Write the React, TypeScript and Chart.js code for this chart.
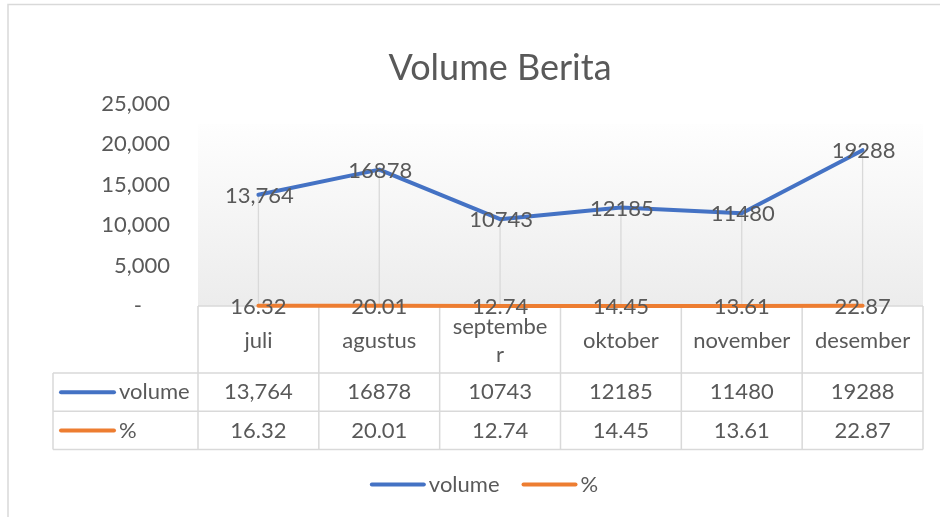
import React, { useEffect, useRef } from 'react';
import { Chart, registerables } from 'chart.js';

Chart.register(...registerables);

// ---------- data ----------
const chartTitle = 'Volume Berita';
const categories = ['juli', 'agustus', 'september', 'oktober', 'november', 'desember'];
// header cells as they wrap in the data table
const headerLines = [['juli'], ['agustus'], ['septembe', 'r'], ['oktober'], ['november'], ['desember']];
const volume = [13764, 16878, 10743, 12185, 11480, 19288];
const percent = [16.32, 20.01, 12.74, 14.45, 13.61, 22.87];
const volumeUsesThousands = [true, false, false, false, false, false];
const seriesNames = ['volume', '%'];
const seriesColors = ['#4472C4', '#ED7D31'];
const yTicks = [0, 5000, 10000, 15000, 20000, 25000];

// ---------- style ----------
const FONT = 'Lato, "Open Sans", sans-serif';
const TEXT = '#595959';
const GRID = '#d9d9d9';
const FS = 22;

const fmtVolume = (v: number, i: number) => (volumeUsesThousands[i] ? v.toLocaleString('en-US') : String(v));
const fmtPercent = (v: number) => v.toFixed(2);

const excelPlugin = {
  id: 'excelLook',
  beforeDraw(chart: any) {
    const { ctx, chartArea: a } = chart;
    ctx.save();
    ctx.fillStyle = '#ffffff';
    ctx.fillRect(0, 0, chart.width, chart.height);
    // outer frame
    ctx.strokeStyle = GRID;
    ctx.lineWidth = 1.5;
    ctx.beginPath();
    ctx.moveTo(8, chart.height + 4);
    ctx.lineTo(8, 4.5);
    ctx.lineTo(chart.width + 4, 4.5);
    ctx.stroke();
    // plot area gradient
    const gTop = a.top + 20;
    const g = ctx.createLinearGradient(0, gTop, 0, a.bottom);
    g.addColorStop(0, '#fefefe');
    g.addColorStop(1, '#ececec');
    ctx.fillStyle = g;
    ctx.fillRect(a.left, gTop, a.right - a.left, a.bottom - gTop);
    // title
    ctx.fillStyle = TEXT;
    ctx.font = `36px ${FONT}`;
    ctx.textAlign = 'center';
    ctx.textBaseline = 'alphabetic';
    ctx.fillText(chartTitle, 500, 80);
    ctx.restore();
  },
  beforeDatasetsDraw(chart: any) {
    const { ctx, chartArea: a } = chart;
    const xs = chart.scales.x;
    const ys = chart.scales.y;
    ctx.save();
    // drop lines
    ctx.strokeStyle = GRID;
    ctx.lineWidth = 1.3;
    categories.forEach((_, i) => {
      const x = xs.getPixelForValue(i);
      const top = ys.getPixelForValue(Math.max(volume[i], percent[i]));
      ctx.beginPath();
      ctx.moveTo(x, top);
      ctx.lineTo(x, a.bottom);
      ctx.stroke();
    });
    // data table
    const n = categories.length;
    const cw = (a.right - a.left) / n;
    const tTop = a.bottom;
    const hBottom = tTop + 67;
    const r1Bottom = hBottom + 38.3;
    const r2Bottom = r1Bottom + 38.3;
    const rowLeft = 53;
    ctx.strokeStyle = GRID;
    ctx.lineWidth = 1.5;
    ctx.beginPath();
    ctx.moveTo(a.left, tTop);
    ctx.lineTo(a.right, tTop);
    [hBottom, r1Bottom, r2Bottom].forEach((y) => {
      ctx.moveTo(rowLeft, y);
      ctx.lineTo(a.right, y);
    });
    ctx.moveTo(rowLeft, hBottom);
    ctx.lineTo(rowLeft, r2Bottom);
    for (let i = 0; i <= n; i++) {
      const x = a.left + i * cw;
      ctx.moveTo(x, tTop);
      ctx.lineTo(x, r2Bottom);
    }
    ctx.stroke();

    ctx.fillStyle = TEXT;
    ctx.font = `${FS}px ${FONT}`;
    ctx.textAlign = 'center';
    ctx.textBaseline = 'middle';
    const hMid = (tTop + hBottom) / 2 + 1;
    headerLines.forEach((lines, i) => {
      const x = xs.getPixelForValue(i);
      lines.forEach((ln, k) => {
        ctx.fillText(ln, x, hMid + (k - (lines.length - 1) / 2) * 28);
      });
    });
    const r1Mid = (hBottom + r1Bottom) / 2;
    const r2Mid = (r1Bottom + r2Bottom) / 2;
    volume.forEach((v, i) => ctx.fillText(fmtVolume(v, i), xs.getPixelForValue(i), r1Mid));
    percent.forEach((v, i) => ctx.fillText(fmtPercent(v), xs.getPixelForValue(i), r2Mid));
    // legend keys in row headers
    [r1Mid, r2Mid].forEach((y, s) => {
      ctx.strokeStyle = seriesColors[s];
      ctx.lineWidth = 4;
      ctx.lineCap = 'round';
      ctx.beginPath();
      ctx.moveTo(61, y);
      ctx.lineTo(114, y);
      ctx.stroke();
      ctx.fillStyle = TEXT;
      ctx.textAlign = 'left';
      ctx.fillText(seriesNames[s], 119, y);
    });
    ctx.restore();
  },
  afterDatasetsDraw(chart: any) {
    const { ctx } = chart;
    ctx.save();
    ctx.fillStyle = TEXT;
    ctx.font = `${FS}px ${FONT}`;
    ctx.textAlign = 'center';
    ctx.textBaseline = 'middle';
    const m0 = chart.getDatasetMeta(0);
    const m1 = chart.getDatasetMeta(1);
    m1.data.forEach((p: any, i: number) => ctx.fillText(fmtPercent(percent[i]), p.x, p.y + 1));
    m0.data.forEach((p: any, i: number) => ctx.fillText(fmtVolume(volume[i], i), p.x + 1, p.y + 1));

    // bottom legend
    const keyLen = 54;
    const gap = 5;
    const itemGap = 22;
    const widths = seriesNames.map((s) => ctx.measureText(s).width);
    const total = widths.reduce((acc, w) => acc + keyLen + gap + w, 0) + itemGap * (seriesNames.length - 1);
    let x = 484 - total / 2;
    const y = 484.5;
    ctx.textAlign = 'left';
    seriesNames.forEach((s, i) => {
      ctx.strokeStyle = seriesColors[i];
      ctx.lineWidth = 4;
      ctx.lineCap = 'round';
      ctx.beginPath();
      ctx.moveTo(x + 2, y);
      ctx.lineTo(x + keyLen, y);
      ctx.stroke();
      ctx.fillStyle = TEXT;
      ctx.fillText(s, x + keyLen + gap, y);
      x += keyLen + gap + widths[i] + itemGap;
    });
    ctx.restore();
  },
};

export default function App() {
  const ref = useRef<HTMLCanvasElement | null>(null);
  useEffect(() => {
    if (!ref.current) return;
    Chart.defaults.font.family = FONT;
    const chart = new Chart(ref.current, {
      type: 'line',
      data: {
        labels: categories,
        datasets: [
          {
            label: seriesNames[0],
            data: volume,
            borderColor: seriesColors[0],
            backgroundColor: seriesColors[0],
            borderWidth: 4,
            pointRadius: 0,
            borderCapStyle: 'round',
            borderJoinStyle: 'round',
            clip: false,
          },
          {
            label: seriesNames[1],
            data: percent,
            borderColor: seriesColors[1],
            backgroundColor: seriesColors[1],
            borderWidth: 4,
            pointRadius: 0,
            borderCapStyle: 'round',
            borderJoinStyle: 'round',
            clip: false,
          },
        ],
      },
      options: {
        responsive: false,
        animation: false,
        devicePixelRatio: 1,
        layout: { padding: { top: 104, right: 17, bottom: 211, left: 0 } },
        plugins: {
          legend: { display: false },
          title: { display: false },
          tooltip: { enabled: false },
        },
        scales: {
          x: {
            type: 'category',
            offset: true,
            display: false,
          },
          y: {
            min: yTicks[0],
            max: yTicks[yTicks.length - 1],
            afterBuildTicks: (scale: any) => {
              scale.ticks = yTicks.map((v) => ({ value: v }));
            },
            afterFit: (scale: any) => {
              scale.width = 198;
            },
            grid: { display: false, drawTicks: false },
            border: { display: false },
            ticks: {
              color: TEXT,
              padding: 28,
              font: { size: FS, family: FONT },
              callback: (v: any) => (Number(v) === 0 ? '-     ' : Number(v).toLocaleString('en-US')),
            },
          },
        },
      },
      plugins: [excelPlugin],
    });
    return () => chart.destroy();
  }, []);
  return (
    <div style={{ position: 'fixed', left: 0, top: 0, width: 940, height: 517, background: '#fff' }}>
      <canvas ref={ref} width={940} height={517} />
    </div>
  );
}
